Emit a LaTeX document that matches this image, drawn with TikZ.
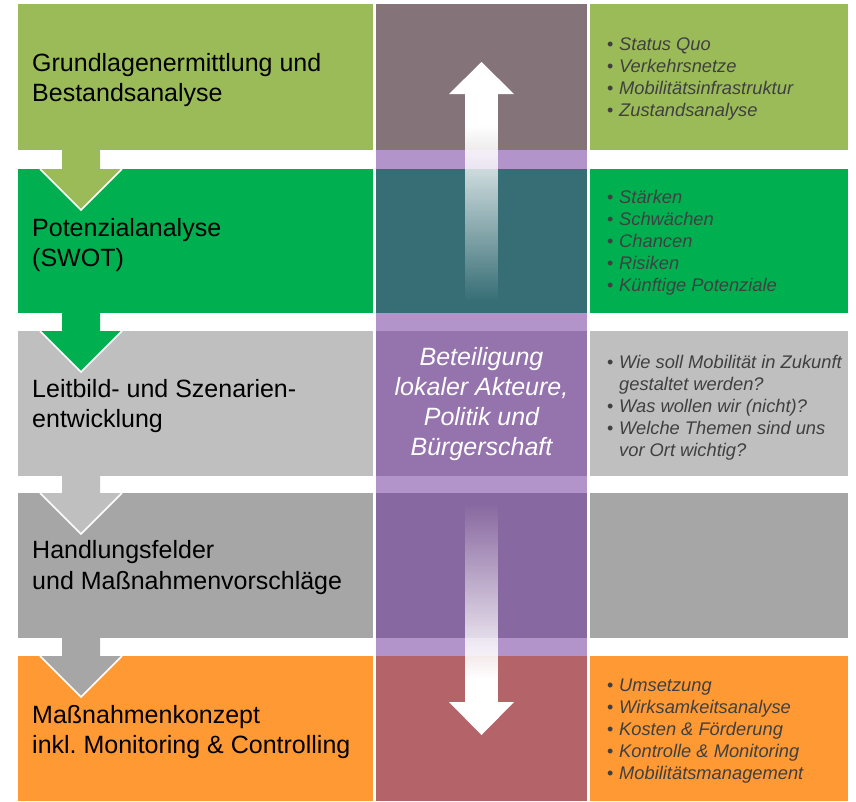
\documentclass[tikz,border=0pt]{standalone}
\usepackage{fontspec}
\setmainfont{Liberation Sans}
\usetikzlibrary{calc}
\frenchspacing
\definecolor{c1}{HTML}{9BBB59}
\definecolor{c2}{HTML}{00B050}
\definecolor{c3}{HTML}{BFBFBF}
\definecolor{c4}{HTML}{A6A6A6}
\definecolor{c5}{HTML}{FF9933}
\definecolor{band}{HTML}{B294CA}
\definecolor{m1}{HTML}{84747A}
\definecolor{m2}{HTML}{376E76}
\definecolor{m3}{HTML}{9574AE}
\definecolor{m4}{HTML}{8868A0}
\definecolor{m5}{HTML}{B46468}
\definecolor{txt}{HTML}{404040}
\begin{document}
\begin{tikzpicture}[x=1pt,y=-1pt,
 lefttxt/.style={anchor=base west, inner sep=0pt, font=\fontsize{25}{30}\selectfont, text=black},
 righttxt/.style={anchor=base west, inner sep=0pt, font=\fontsize{18.3}{22}\selectfont\itshape, text=txt},
 bul/.style={anchor=base west, inner sep=0pt, font=\fontsize{18}{22}\selectfont, text=txt},
 midtxt/.style={anchor=base, inner sep=0pt, font=\fontsize{25}{30}\selectfont\itshape, text=white},
 stagebox/.style={inner sep=0pt, outer sep=0pt, draw=none, minimum width=355pt},
 midbox/.style={inner sep=0pt, outer sep=0pt, draw=none, minimum width=211pt},
 rightbox/.style={inner sep=0pt, outer sep=0pt, draw=none, minimum width=258pt}]
\useasboundingbox (0,0) rectangle (856,801);
\fill[white] (0,0) rectangle (856,801);

% left stage boxes
\node[stagebox, fill=c1, minimum height=146pt] (L1) at (195.5,77) {};
\node[stagebox, fill=c2, minimum height=144pt] (L2) at (195.5,241) {};
\node[stagebox, fill=c3, minimum height=145pt] (L3) at (195.5,403.5) {};
\node[stagebox, fill=c4, minimum height=145pt] (L4) at (195.5,565.5) {};
\node[stagebox, fill=c5, minimum height=145pt] (L5) at (195.5,728.5) {};

% middle column
\fill[band] (376,4) rectangle (587,801);
\node[midbox, fill=m1, minimum height=146pt] (M1) at (481.5,77) {};
\node[midbox, fill=m2, minimum height=144pt] (M2) at (481.5,241) {};
\node[midbox, fill=m3, minimum height=145pt] (M3) at (481.5,403.5) {};
\node[midbox, fill=m4, minimum height=145pt] (M4) at (481.5,565.5) {};
\node[midbox, fill=m5, minimum height=145pt] (M5) at (481.5,728.5) {};

% right boxes
\node[rightbox, fill=c1, minimum height=146pt] (R1) at (719,77) {};
\node[rightbox, fill=c2, minimum height=144pt] (R2) at (719,241) {};
\node[rightbox, fill=c3, minimum height=145pt] (R3) at (719,403.5) {};
\node[rightbox, fill=c4, minimum height=145pt] (R4) at (719,565.5) {};
\node[rightbox, fill=c5, minimum height=145pt] (R5) at (719,728.5) {};

% down arrows between stages
\foreach \a/\b/\c in {L1/L2/c1, L2/L3/c2, L3/L4/c3, L4/L5/c4} {
  \fill[\c] ($(\a.south west)+(44,-1)$) -- ($(\a.south west)+(82,-1)$)
    -- ($(\b.north west)+(82,0)$) -- ($(\b.north west)+(104,0)$)
    -- ($(\b.north west)+(63,41)$) -- ($(\b.north west)+(22,0)$)
    -- ($(\b.north west)+(44,0)$) -- cycle;
  \draw[white, line width=1.5pt, line join=miter] ($(\b.north west)+(22,0)$)
    -- ($(\b.north west)+(63,41)$) -- ($(\b.north west)+(104,0)$);
}

% double arrow in middle column
\coordinate (upTip) at (481.5,62);
\coordinate (downTip) at (481.5,735);
\foreach \y in {94,96,...,298} {
  \pgfmathsetmacro\op{min(1,(300-\y)/175)}
  \fill[white, fill opacity=\op] (465,\y) rectangle (498,\y+2);
}
\fill[white] ($(upTip)+(-32.5,32)$) -- (upTip) -- ($(upTip)+(32.5,32)$) -- cycle;
\foreach \y in {503,505,...,701} {
  \pgfmathsetmacro\op{min(1,(\y-503)/175)}
  \fill[white, fill opacity=\op] (465,\y) rectangle (498,\y+2);
}
\fill[white] ($(downTip)+(-32.5,-33)$) -- (downTip) -- ($(downTip)+(32.5,-33)$) -- cycle;

% middle text
\node[midtxt] (mt1) at (481.5,365) {Beteiligung};
\node[midtxt] (mt2) at (481.5,395) {lokaler Akteure,};
\node[midtxt] (mt3) at (481.5,425) {Politik und};
\node[midtxt] (mt4) at (481.5,455) {Bürgerschaft};

% left texts
\node[lefttxt] (l1a) at (32,71) {Grundlagenermittlung und};
\node[lefttxt] (l1b) at (32,101) {Bestandsanalyse};
\node[lefttxt] (l2a) at (32,236) {Potenzialanalyse};
\node[lefttxt] (l2b) at (32,266) {(SWOT)};
\node[lefttxt] (l3a) at (32,397) {Leitbild- und Szenarien-};
\node[lefttxt] (l3b) at (32,427) {entwicklung};
\node[lefttxt] (l4a) at (32,558) {Handlungsfelder};
\node[lefttxt] (l4b) at (32,589) {und Maßnahmenvorschläge};
\node[lefttxt] (l5a) at (32,723) {Maßnahmenkonzept};
\node[lefttxt] (l5b) at (32,753) {inkl. Monitoring \& Controlling};

% right lists
\foreach \t [count=\i] in {Status Quo, Verkehrsnetze, Mobilitätsinfrastruktur, Zustandsanalyse} {
  \node[bul] (b1-\i) at (607,{50+22*(\i-1)}) {\textbullet};
  \node[righttxt] (r1-\i) at (619,{50+22*(\i-1)}) {\t};
}
\foreach \t [count=\i] in {Stärken, Schwächen, Chancen, Risiken, Künftige Potenziale} {
  \node[bul] (b2-\i) at (607,{203+22*(\i-1)}) {\textbullet};
  \node[righttxt] (r2-\i) at (619,{203+22*(\i-1)}) {\t};
}
\node[bul] (b3-1) at (607,368) {\textbullet};
\node[righttxt] (r3-1) at (619,368) {Wie soll Mobilität in Zukunft};
\node[righttxt] (r3-2) at (619,390) {gestaltet werden?};
\node[bul] (b3-3) at (607,412) {\textbullet};
\node[righttxt] (r3-3) at (619,412) {Was wollen wir (nicht)?};
\node[bul] (b3-4) at (607,434) {\textbullet};
\node[righttxt] (r3-4) at (619,434) {Welche Themen sind uns};
\node[righttxt] (r3-5) at (619,456) {vor Ort wichtig?};
\foreach \t [count=\i] in {Umsetzung, Wirksamkeitsanalyse, Kosten \& Förderung, Kontrolle \& Monitoring, Mobilitätsmanagement} {
  \node[bul] (b5-\i) at (607,{691+22*(\i-1)}) {\textbullet};
  \node[righttxt] (r5-\i) at (619,{691+22*(\i-1)}) {\t};
}
\end{tikzpicture}
\end{document}
